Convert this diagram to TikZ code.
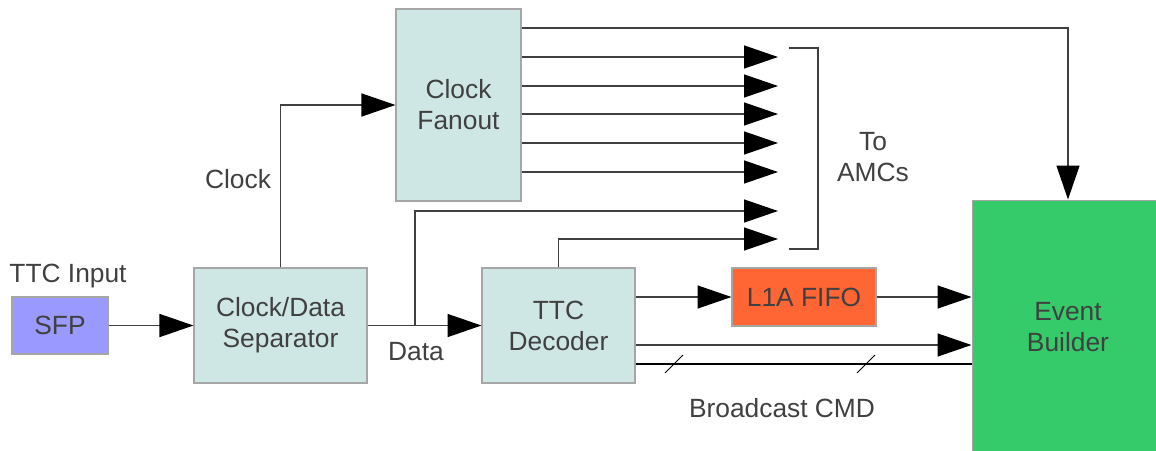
\documentclass[tikz,border=0pt]{standalone}
\usepackage{fontspec}
\setmainfont{Liberation Sans}
\usepackage{tikz,xcolor}
\usetikzlibrary{arrows.meta}

\definecolor{blockfill}{HTML}{CFE7E4}
\definecolor{sfpfill}{HTML}{9999FF}
\definecolor{fifofill}{HTML}{FF6633}
\definecolor{evbfill}{HTML}{35CB6A}

\begin{document}
\begin{tikzpicture}[x=0.02cm,y=-0.02cm,
	font=\fontsize{15}{17.7}\selectfont,
	block/.style={draw=black!35,line width=0.6pt,text=black!75,align=center,inner sep=0pt},
	link/.style={draw=black!75,line width=0.8pt},
	arr/.style={link,-{Triangle[length=0.68cm,width=0.46cm,color=black]}},
	lbl/.style={text=black!75,align=center,inner sep=0pt}]
%	\draw[help lines, color=black!30, step=50, ultra thin](0,0)grid(1156,450);
	\clip (0,0) rectangle (1156,450);
	
	\node [block,fill=sfpfill,minimum width=1.92cm,minimum height=1.14cm] (sfp) at (60,325.5) {SFP};
	\node [block,fill=blockfill,minimum width=3.46cm,minimum height=2.3cm] (cds) at (280.5,325.5) {Clock/Data\\Separator};
	\node [block,fill=blockfill,minimum width=2.5cm,minimum height=3.84cm] (fan) at (458.5,105) {Clock\\Fanout};
	\node [block,fill=blockfill,minimum width=3.06cm,minimum height=2.3cm] (dec) at (558.5,325.5) {TTC\\Decoder};
	\node [block,fill=fifofill,minimum width=2.88cm,minimum height=1.16cm] (fifo) at (804,297) {L1A FIFO};
	\node [block,fill=evbfill,minimum width=3.84cm,minimum height=5.08cm] (evb) at (1068,327) {Event\\Builder};
	
	\node [lbl] (ttcin) at (68,276) {TTC Input};
	\node [lbl] (clk) at (238,179) {Clock};
	\node [lbl] (data) at (416,352) {Data};
	\node [lbl] (amcs) at (873,157) {To\\AMCs};
	\node [lbl] (bcmd) at (782,408) {Broadcast CMD};
	
	\coordinate (split) at (415,325.5);
	\foreach \y [count=\i] in {57,86,114,143,172,211,239}
		\coordinate (amc\i) at (778,\y);
	
	\draw [arr] (sfp.east) -- (cds.west);
	\draw [arr] (cds.north) |- (fan.west);
	\draw [arr] (cds.east) -- (dec.west);
	\draw [arr] (split) |- (amc6);
	\draw [arr] (dec.north) |- (amc7);
	\foreach \i in {1,...,5}
		\draw [arr] (fan.east |- amc\i) -- (amc\i);
	\draw [arr] (fan.east |- 0,28) -| (evb.north);
	\draw [link] (789,48) -- (818,48) -- (818,249) -- (789,249);
	
	\draw [arr] (dec.east |- fifo.west) -- (fifo.west);
	\draw [arr] (fifo.east) -- (evb.west |- fifo.east);
	\draw [arr] (dec.east |- 0,345) -- (evb.west |- 0,345);
	\draw [link,black] (dec.east |- 0,364) -- (evb.west |- 0,364);
	\foreach \x in {674,866}
		\draw [black,line width=0.5pt] (\x-9,373) -- (\x+9,355);
	
\end{tikzpicture}
\end{document}
